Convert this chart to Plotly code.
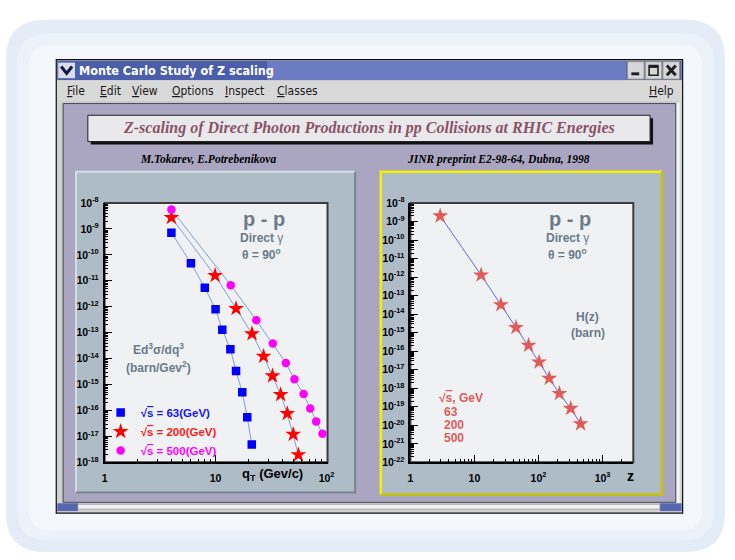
import plotly.graph_objects as go

# ---------------- data ----------------
qt_63 = [4, 6, 8, 10, 11.5, 13.6, 15.3, 17.4, 19.3, 21.2]
ed_63 = [7.2e-10, 4.8e-11, 5.4e-12, 8.0e-13, 1.3e-13, 2.3e-14, 3.3e-15, 5.0e-16, 5.5e-17, 4.9e-18]

qt_200 = [4, 9.9, 15.3, 21.3, 27.1, 32.6, 38.6, 44.3, 50.1, 55.8]
ed_200 = [2.75e-9, 1.6e-11, 8.5e-13, 9.1e-14, 1.23e-14, 2.15e-15, 4.1e-16, 7.6e-17, 1.2e-17, 1.95e-18]

qt_500 = [4, 13.7, 23.3, 32.8, 43.0, 51.4, 62.2, 71.3, 80.7, 91.9]
ed_500 = [5.6e-9, 6.8e-12, 3.0e-13, 3.8e-14, 6.8e-15, 1.6e-15, 4.3e-16, 1.2e-16, 3.8e-17, 1.26e-17]

z_vals = [2.92, 12.7, 25.8, 44.5, 69.9, 102, 147, 212, 318, 454]
hz_vals = [2.0e-9, 1.3e-12, 3.2e-14, 1.9e-15, 2.1e-16, 2.6e-17, 3.4e-18, 5.2e-19, 8.1e-20, 1.2e-20]

series_energies = ["63", "200", "500"]
energy_labels = ["63", "200", "500"]

left_x_ticks = [1, 10, 100]
left_x_ticktext = ["1", "10", "10<sup>2</sup>"]
right_x_ticks = [1, 10, 100, 1000]
right_x_ticktext = ["1", "10", "10<sup>2</sup>", "10<sup>3</sup>"]
left_y_exps = list(range(-18, -7))
right_y_exps = list(range(-22, -7))

# ---------------- helpers ----------------
W, H = 735, 560
def X(px):
    return px / W
def Y(py):
    return 1 - py / H

shapes = []
def rect(x0, y0, x1, y1, fill=None, line=None, lw=0, layer="below"):
    shapes.append(dict(type="rect", xref="paper", yref="paper",
                       x0=X(x0), x1=X(x1), y0=Y(y1), y1=Y(y0),
                       fillcolor=fill if fill else "rgba(0,0,0,0)",
                       line=dict(color=line if line else "rgba(0,0,0,0)", width=lw),
                       layer=layer))
def seg(pts, color, lw, layer="below"):
    d = "M " + " L ".join(f"{X(a):.5f},{Y(b):.5f}" for a, b in pts)
    shapes.append(dict(type="path", xref="paper", yref="paper", path=d,
                       line=dict(color=color, width=lw), layer=layer))
def rrect(x0, y0, x1, y1, r, fill):
    rx, ry = r / W, r / H
    a0, a1, b0, b1 = X(x0), X(x1), Y(y1), Y(y0)
    d = (f"M {a0+rx},{b1} L {a1-rx},{b1} Q {a1},{b1} {a1},{b1-ry} "
         f"L {a1},{b0+ry} Q {a1},{b0} {a1-rx},{b0} L {a0+rx},{b0} "
         f"Q {a0},{b0} {a0},{b0+ry} L {a0},{b1-ry} Q {a0},{b1} {a0+rx},{b1} Z")
    shapes.append(dict(type="path", xref="paper", yref="paper", path=d,
                       fillcolor=fill, line=dict(width=0), layer="below"))

annotations = []
def text(px, py, s, size=12, color="black", family="Liberation Sans",
         xanchor="center", weight="normal", style="normal"):
    annotations.append(dict(x=X(px), y=Y(py), xref="paper", yref="paper", text=s,
                            showarrow=False, xanchor=xanchor, yanchor="middle",
                            font=dict(size=size, color=color, family=family,
                                      weight=weight, style=style)))

SQRT_S = "√<span style='text-decoration:overline'>s</span>"

# ---------------- background / window ----------------
rrect(3, 12, 732, 558, 40, "#e4edf7")
rrect(14, 26, 721, 546, 32, "#ecf2f9")
rrect(26, 38, 709, 536, 22, "#f4f7fb")

rect(54, 53, 689, 518, "#d3d3d3", "#101010", 1.2)
rect(55, 54, 688, 74, "#4b5eac")
rect(268, 54, 632, 74, "#6b7cc2")
# chevron
rect(56, 56, 73, 72, "#d8dcec")
seg([(59, 60), (64.5, 67), (70, 60)], "#0f1840", 3)
# window buttons
for bx in (633, 651, 669):
    rect(bx, 55, bx + 17, 73, "#d6d6d6", "#8a8a8a", 1)
rect(637, 66, 645, 69, "#202020")
rect(655, 59, 664, 69, None, "#202020", 1.6)
rect(655, 59, 664, 61.5, "#202020")
seg([(673, 59), (682, 69)], "#202020", 3)
seg([(682, 59), (673, 69)], "#202020", 3)

text(75, 64.5, "Monte Carlo Study of Z scaling", size=12.5, color="white",
     family="DejaVu Sans Condensed", xanchor="left", weight="bold")

# menu bar
rect(55, 74, 688, 96, "#d8d8d8")
menu = [("F", "ile", 63), ("E", "dit", 96), ("V", "iew", 129), ("O", "ptions", 169),
        ("I", "nspect", 223), ("C", "lasses", 276)]
for first, rest, mx in menu:
    text(mx, 85.5, f"<span style='text-decoration:underline'>{first}</span>{rest}",
         size=12, color="#1a1a1a", family="DejaVu Sans Condensed", xanchor="left")
text(653, 85.5, "<span style='text-decoration:underline'>H</span>elp", size=12,
     color="#1a1a1a", family="DejaVu Sans Condensed", xanchor="left")

# canvas
rect(59, 96, 684, 509, "#c8c8c8")
rect(61, 98, 682, 507, "#aaa6c2", "#4a4a5a", 1)
rect(683, 97, 686, 508, "#f4f4f4")
rect(55, 508, 76, 516, "#5667b0")
rect(666, 508, 688, 516, "#5667b0")
rect(76, 509, 666, 514, "#f2f2f2", "#9a9a9a", 0.8)

# title box
rect(89, 113, 659, 140, "#111111")
rect(86, 110, 656, 137, "#e9e9eb", "#202020", 1)
text(371, 123.5, "Z-scaling of Direct Photon Productions in pp Collisions at RHIC Energies",
     size=16, color="#8a5366", family="Liberation Serif", weight="bold", style="italic")
text(208, 155, "M.Tokarev, E.Potrebenikova", size=11.5, family="Liberation Serif",
     weight="bold", style="italic")
text(502, 155, "JINR preprint E2-98-64, Dubna, 1998", size=11.5, family="Liberation Serif",
     weight="bold", style="italic")

# pads
rect(74, 168, 357, 497, "#adbcc6")
seg([(74, 497), (74, 168), (357, 168)], "#d4dde3", 2)
seg([(357, 168), (357, 497), (74, 497)], "#76858f", 2)
rect(383, 168, 668, 499, "#adbcc6")
seg([(383, 499), (383, 168), (668, 168)], "#f2f200", 2.5)
seg([(668, 168), (668, 499), (383, 499)], "#c8c400", 2.5)

# plot areas
rect(103, 200, 329, 466, "#f0f1f3", "#3c3c3c", 2)
rect(413, 200, 639, 466, "#f0f1f3", "#3c3c3c", 2)

# ---------------- traces ----------------
fig = go.Figure()
line_col = "#7f9ddc"
for xs, ys in ((qt_63, ed_63), (qt_200, ed_200), (qt_500, ed_500)):
    fig.add_trace(go.Scatter(x=xs, y=ys, mode="lines", line=dict(color=line_col, width=1),
                             showlegend=False, hoverinfo="skip", xaxis="x", yaxis="y"))
marker_specs = [("square", "#0000ff", 8.5, "#1414ff"),
                ("star", "#ff0000", 12, "#ff1a1a"),
                ("circle", "#ff00ff", 8.5, "#ff00ff")]
for (xs, ys), en, (sym, col, sz, tcol) in zip(((qt_63, ed_63), (qt_200, ed_200), (qt_500, ed_500)),
                                              series_energies, marker_specs):
    fig.add_trace(go.Scatter(x=xs, y=ys, mode="markers",
                             marker=dict(symbol=sym, color=col, size=sz, line=dict(width=0)),
                             name=f"<b><span style='color:{tcol}'>{SQRT_S} = {en}(GeV)</span></b>",
                             xaxis="x", yaxis="y"))

fig.add_trace(go.Scatter(x=z_vals, y=hz_vals, mode="lines", line=dict(color="#5f6ae0", width=1),
                         showlegend=False, hoverinfo="skip", xaxis="x2", yaxis="y2"))
fig.add_trace(go.Scatter(x=z_vals, y=hz_vals, mode="markers",
                         marker=dict(symbol="star", color="#e05a57", size=12, line=dict(width=0)),
                         showlegend=False, xaxis="x2", yaxis="y2"))

# ---------------- text in plots ----------------
grey = "#6a7b8a"
for cx in (265, 575):
    text(cx, 216, "p - p", size=20, color=grey, weight="bold")
    text(cx - 3, 236, "<b>Direct</b> γ", size=12, color=grey)
    text(cx - 3, 252, "<b>θ = 90<sup>o</sup></b>", size=12, color=grey)
text(158, 350, "Ed<sup>3</sup>σ/dq<sup>3</sup>", size=12, color=grey, weight="bold")
text(158, 368, "(barn/Gev<sup>2</sup>)", size=12, color=grey, weight="bold")
text(593, 317, "H(z)", size=12, color=grey, weight="bold")
text(593, 333, "(barn)", size=12, color=grey, weight="bold")
text(273, 478, "q<sub>T</sub> (Gev/c)", size=13, weight="bold")
text(636, 480, "z", size=14, weight="bold")

red2 = "#dc5d5d"
text(440, 400, f"{SQRT_S}, GeV", size=12, color=red2, weight="bold", xanchor="left")
for i, lab in enumerate(energy_labels):
    text(445, 414 + 13.5 * i, lab, size=12, color=red2, weight="bold", xanchor="left")

# ---------------- axes ----------------
def minor_log(lo, hi):
    out = []
    for e in range(lo, hi):
        for k in range(2, 10):
            out.append(k * 10.0 ** e)
    return out

tickfont = dict(family="Liberation Sans", size=10.5, color="black", weight="bold")
common = dict(type="log", showgrid=False, zeroline=False, showline=True, linecolor="black",
              linewidth=1.6, ticks="inside", ticklen=8, tickwidth=1.2, tickcolor="black",
              tickfont=tickfont, tickmode="array")

fig.update_layout(
    xaxis=dict(domain=[X(103), X(329)], anchor="y", range=[0, 2.009],
               tickvals=left_x_ticks, ticktext=left_x_ticktext, ticklabelstandoff=5,
               minor=dict(ticks="inside", ticklen=4, tickwidth=1, tickcolor="black",
                          tickvals=minor_log(0, 2), showgrid=False), **common),
    yaxis=dict(domain=[Y(466), Y(200)], anchor="x", range=[-18, -8],
               tickvals=[10.0 ** e for e in left_y_exps],
               ticktext=[f"10<sup>{e}</sup>" for e in left_y_exps], ticklabelstandoff=2,
               minor=dict(ticks="inside", ticklen=4, tickwidth=1, tickcolor="black",
                          tickvals=minor_log(-18, -8), showgrid=False), **common),
    xaxis2=dict(domain=[X(413), X(639)], anchor="y2", range=[0, 3.48],
                tickvals=right_x_ticks, ticktext=right_x_ticktext, ticklabelstandoff=5,
                minor=dict(ticks="inside", ticklen=4, tickwidth=1, tickcolor="black",
                           tickvals=minor_log(0, 4), showgrid=False), **common),
    yaxis2=dict(domain=[Y(466), Y(200)], anchor="x2", range=[-22, -8],
                tickvals=[10.0 ** e for e in right_y_exps],
                ticktext=[f"10<sup>{e}</sup>" for e in right_y_exps], ticklabelstandoff=2,
                minor=dict(ticks="inside", ticklen=4, tickwidth=1, tickcolor="black",
                           tickvals=minor_log(-22, -8), showgrid=False), **common),
    legend=dict(x=X(99), y=Y(400), xanchor="left", yanchor="top",
                bgcolor="rgba(0,0,0,0)", borderwidth=0, itemwidth=30, tracegroupgap=0,
                font=dict(family="Liberation Sans", size=11.5)),
    showlegend=True,
    width=W, height=H, margin=dict(l=0, r=0, t=0, b=0),
    paper_bgcolor="white", plot_bgcolor="rgba(0,0,0,0)",
    shapes=shapes, annotations=annotations,
)

fig.write_html("out.html")
